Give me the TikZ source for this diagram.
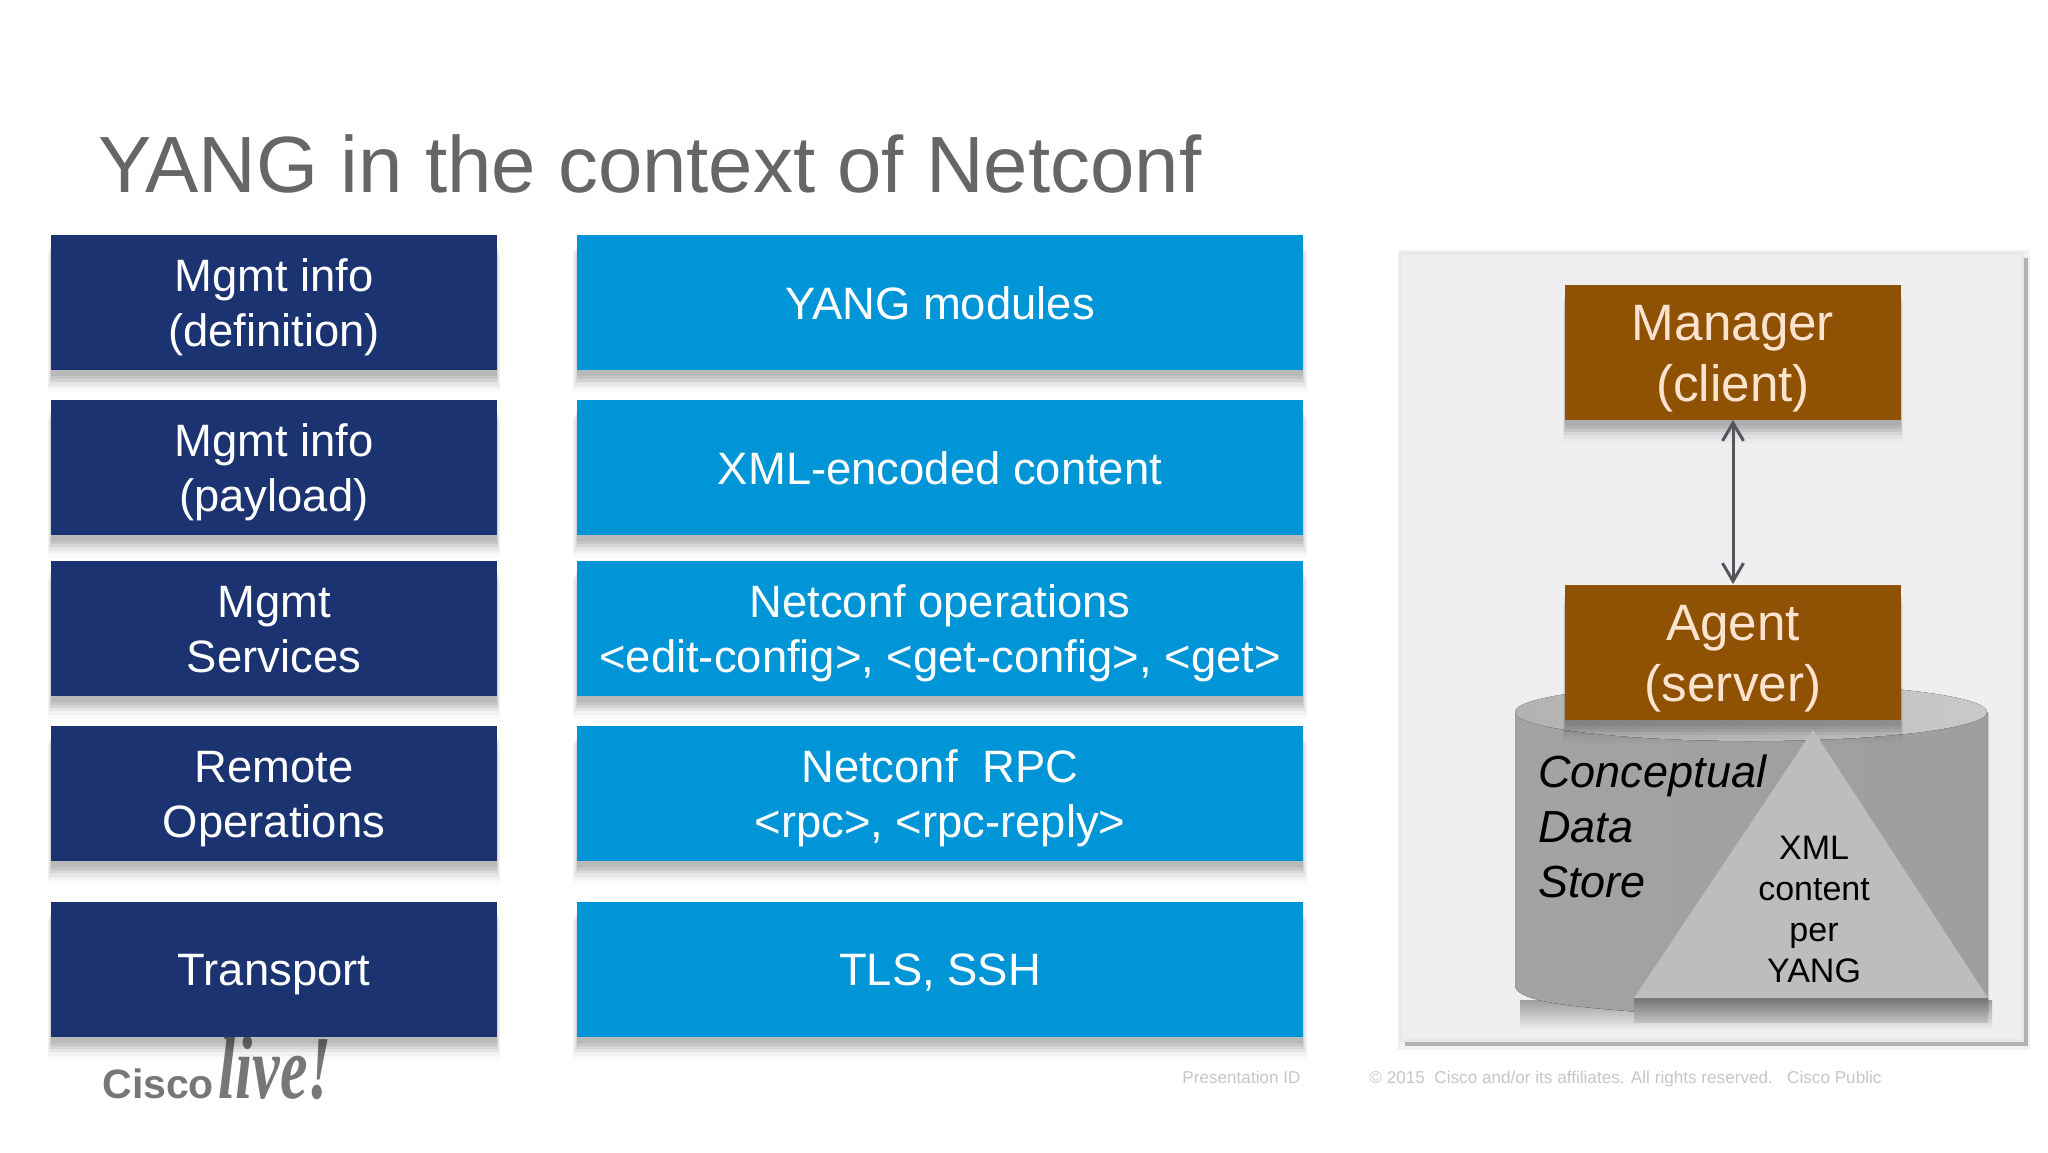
\documentclass[tikz,border=0pt]{standalone}
\usepackage{fontspec}
\setmainfont{Liberation Sans}
\newfontfamily\logoserif{Liberation Serif}
\usetikzlibrary{arrows.meta,shadows}
\definecolor{navy}{HTML}{1B3370}
\definecolor{cyanbox}{HTML}{0095D6}
\definecolor{brownbox}{HTML}{8F5204}
\definecolor{peach}{HTML}{FBE3D0}
\definecolor{titlegray}{HTML}{666668}
\definecolor{footgray}{HTML}{C6C6CA}
\definecolor{logogray}{HTML}{77777A}
\definecolor{arrowgray}{HTML}{55565A}
\definecolor{panelfill}{HTML}{EFEFF1}
\newcommand{\boxstrut}{\rule[-5.5pt]{0pt}{27.5pt}}
\newcommand{\rolestrut}{\rule[-5.75pt]{0pt}{30.5pt}}
\tikzset{
  softshadow/.style={
    copy shadow={shadow xshift=0pt,shadow yshift=-11pt,shadow scale=1.012,fill=black,opacity=.02,draw=none},
    copy shadow={shadow xshift=0pt,shadow yshift=-9pt,shadow scale=1.012,fill=black,opacity=.03,draw=none},
    copy shadow={shadow xshift=0pt,shadow yshift=-7.5pt,shadow scale=1.008,fill=black,opacity=.05,draw=none},
    copy shadow={shadow xshift=0pt,shadow yshift=-6pt,shadow scale=1.004,fill=black,opacity=.07,draw=none},
    copy shadow={shadow xshift=0pt,shadow yshift=-4.5pt,fill=black,opacity=.07,draw=none},
    copy shadow={shadow xshift=0pt,shadow yshift=-3pt,fill=black,opacity=.06,draw=none}},
  infobox/.style={rectangle,inner sep=0pt,text=white,align=center,softshadow,
    execute at end node=\boxstrut,
    font=\fontsize{22.7}{27.5}\selectfont},
  navybox/.style={infobox,fill=navy,minimum width=223pt,minimum height=67.5pt},
  bluebox/.style={infobox,fill=cyanbox,minimum width=363pt,minimum height=67.5pt},
  rolebox/.style={rectangle,inner sep=0pt,fill=brownbox,text=peach,align=center,softshadow,
    execute at end node=\rolestrut,
    minimum width=168pt,minimum height=67.5pt,font=\fontsize{25.6}{30.5}\selectfont},
  footer/.style={inner sep=0pt,anchor=base west,text=footgray,font=\fontsize{8.57}{10}\selectfont},
  storetext/.style={inner sep=0pt,align=left,anchor=north west,font=\itshape\fontsize{22.5}{27.5}\selectfont},
  yangtext/.style={inner sep=0pt,align=center,font=\fontsize{17}{20.5}\selectfont},
  linkarrow/.style={draw=arrowgray,line width=1.5pt,
    {Straight Barb[length=9pt,width=10.5pt]}-{Straight Barb[length=9pt,width=10.5pt]}}
}
\begin{document}
\begin{tikzpicture}[x=.5pt,y=-.5pt]
\useasboundingbox (0,0) rectangle (2048,1152);
\fill[white] (0,0) rectangle (2048,1152);
% title and footer
\node[inner sep=0pt,anchor=base west,text=titlegray,font=\fontsize{39.9}{48}\selectfont] (title) at (98,192) {YANG in the context of Netconf};
\node[inner sep=0pt,anchor=base west,text=logogray,font=\bfseries\fontsize{20.5}{25}\selectfont] (cisco) at (102,1098) {Cisco};
\node[inner sep=0pt,anchor=base west,text=logogray,yscale=1.45,font=\logoserif\bfseries\itshape\fontsize{31}{36}\selectfont] (live) at (218,1098) {live!};
\node[footer] (presid) at (1182,1083) {Presentation ID};
\node[footer] (copyr) at (1369,1083) {© 2015\ \ Cisco and/or its affiliates. All rights reserved.\ \ \ Cisco Public};
% left column
\node[navybox] (n1) at (274,302.5) {\boxstrut Mgmt info\\(definition)};
\node[navybox] (n2) at (274,467.5) {\boxstrut Mgmt info\\(payload)};
\node[navybox] (n3) at (274,628) {\boxstrut Mgmt\\Services};
\node[navybox] (n4) at (274,793.5) {\boxstrut Remote\\Operations};
\node[navybox] (n5) at (274,969) {Transport};
% middle column
\node[bluebox] (b1) at (940,302.5) {YANG modules};
\node[bluebox] (b2) at (940,467.5) {XML-encoded content};
\node[bluebox] (b3) at (940,628) {\boxstrut Netconf operations\\<edit-config>, <get-config>, <get>};
\node[bluebox] (b4) at (940,793.5) {\boxstrut Netconf\ \ RPC\\<rpc>, <rpc-reply>};
\node[bluebox] (b5) at (940,969) {TLS, SSH};
% panel
\fill[black!5] (1398,250) rectangle (2030,1050);
\fill[black!30] (1405,258) rectangle (2028,1046);
\fill[panelfill,draw=black!9,line width=1.5pt] (1400,253) rectangle (2022,1040);
% data store
\shade[top color=black!38,bottom color=panelfill] (1520,1000) rectangle (1992,1030);
\fill[left color=black!36,right color=black!38] (1515,712) -- (1515,985) .. controls (1515,1000) and (1560,1006) .. (1640,1012) -- (1988,1012) -- (1988,712) -- cycle;
\fill[left color=black!30,right color=black!21] (1751,712) ellipse[x radius=236,y radius=29];
\shade[top color=black!55,bottom color=black!24] (1634,998) rectangle (1988,1022);
\node[rolebox] (manager) at (1733,352) {\rolestrut Manager\\(client)};
\node[rolebox] (agent) at (1733,652) {\rolestrut Agent\\(server)};
\fill[black!26] (1813,730) -- (1988,998) -- (1634,998) -- cycle;
\draw[linkarrow] (manager.south) -- (agent.north);
\node[storetext] (store) at (1538,754) {Conceptual\\Data\\Store};
\node[yangtext] (xml) at (1814,909) {XML\\content\\per\\YANG};
\end{tikzpicture}
\end{document}
